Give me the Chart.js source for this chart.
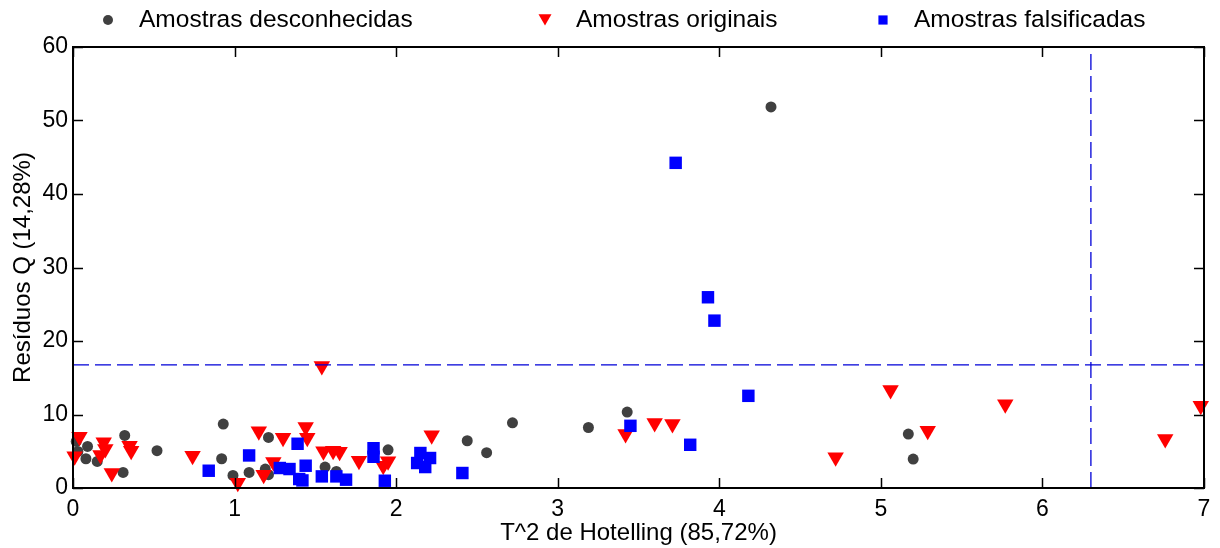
<!DOCTYPE html>
<html lang="pt">
<head>
<meta charset="utf-8">
<title>T^2 de Hotelling x Resíduos Q</title>
<script src="https://cdn.jsdelivr.net/npm/chart.js@4.4.1/dist/chart.umd.min.js"></script>
<style>
  html, body { margin: 0; padding: 0; background: #fff; }
  canvas { display: block; }
</style>
</head>
<body>
<canvas id="grafico" width="1220" height="548"></canvas>
<script>
// ---- dados ----
const desconhecidasX = [0.02, 0.09, 0.03, 0.08, 0.15, 0.32, 0.31, 0.52, 0.93, 0.92, 0.99, 1.09, 1.21,
  1.19, 1.21, 1.56, 1.63, 1.95, 2.44, 2.56, 2.72, 3.19, 3.43, 4.32, 5.17, 5.20];
const desconhecidasY = [6.33, 5.65, 4.97, 3.98, 3.61, 7.15, 2.12, 5.07, 8.70, 3.98, 1.71, 2.12, 6.88,
  2.58, 1.81, 2.85, 2.26, 5.20, 6.43, 4.80, 8.87, 8.23, 10.33, 51.85, 7.34, 3.94];

const originaisX = [0.04, 0.01, 0.19, 0.20, 0.17, 0.35, 0.36, 0.24, 0.74, 1.02, 1.15, 1.30, 1.18, 1.24,
  1.44, 1.45, 1.54, 1.55, 1.61, 1.65, 1.77, 1.92, 1.95, 2.22, 3.42, 3.60, 3.71, 4.72, 5.06, 5.29,
  5.77, 6.76, 6.98];
const originaisY = [6.98, 4.31, 6.21, 5.30, 4.48, 5.76, 5.08, 2.04, 4.40, 0.71, 7.73, 6.82, 1.79, 3.53,
  8.29, 6.85, 16.60, 4.99, 5.08, 4.92, 3.72, 3.04, 3.63, 7.16, 7.34, 8.83, 8.70, 4.17, 13.32, 7.80,
  11.41, 6.66, 11.20];

const falsificadasX = [0.84, 1.09, 1.39, 1.44, 1.28, 1.34, 1.40, 1.42, 1.54, 1.63, 1.69, 1.86, 1.86,
  1.93, 2.15, 2.21, 2.13, 2.18, 2.41, 3.45, 3.82, 4.18, 3.73, 3.93, 3.97];
const falsificadasY = [2.35, 4.43, 6.02, 3.03, 2.72, 2.58, 1.22, 1.03, 1.58, 1.58, 1.13, 5.41, 4.25,
  0.99, 4.76, 4.08, 3.40, 2.85, 2.04, 8.46, 5.88, 12.54, 44.24, 25.95, 22.77];

// limites de confiança (95%)
const limiteT2 = 6.30;
const limiteQ = 16.75;

const xTicks = [0, 1, 2, 3, 4, 5, 6, 7];
const yTicks = [0, 10, 20, 30, 40, 50, 60];

const series = ['Amostras desconhecidas', 'Amostras originais', 'Amostras falsificadas'];
const tituloX = 'T^2 de Hotelling (85,72%)';
const tituloY = 'Resíduos Q (14,28%)';

// ---- estilo ----
const FONTE = '"Liberation Sans", Arial, sans-serif';
const CINZA = '#404040', VERMELHO = '#ff0000', AZUL = '#0000ff';

const pontos = (xs, ys) => xs.map((x, i) => ({ x, y: ys[i] }));

// caixa fechada com ticks para dentro nos quatro lados
const moldura = {
  id: 'moldura',
  afterDatasetsDraw(chart) {
    const { ctx, chartArea: a, scales } = chart;
    const t = 10;
    ctx.save();
    ctx.strokeStyle = '#000';
    ctx.lineWidth = 1.5;
    ctx.beginPath();
    xTicks.forEach(v => {
      const px = Math.round(scales.x.getPixelForValue(v)) + 0.5;
      ctx.moveTo(px, a.bottom); ctx.lineTo(px, a.bottom - t);
      ctx.moveTo(px, a.top); ctx.lineTo(px, a.top + t);
    });
    yTicks.forEach(v => {
      const py = Math.round(scales.y.getPixelForValue(v)) + 0.5;
      ctx.moveTo(a.left, py); ctx.lineTo(a.left + t, py);
      ctx.moveTo(a.right, py); ctx.lineTo(a.right - t, py);
    });
    ctx.stroke();
    ctx.lineWidth = 2;
    ctx.strokeRect(a.left, a.top, a.right - a.left, a.bottom - a.top);
    ctx.restore();
  }
};

// legenda em linha no topo
const legenda = {
  id: 'legenda',
  afterDraw(chart) {
    const { ctx } = chart;
    const itens = [
      { x: 108, texto: series[0], estilo: { pointStyle: 'circle', radius: 5, rotation: 0 }, cor: CINZA },
      { x: 545, texto: series[1], estilo: { pointStyle: 'triangle', radius: 7.5, rotation: 180 }, cor: VERMELHO },
      { x: 883, texto: series[2], estilo: { pointStyle: 'rect', radius: 6.5, rotation: 0 }, cor: AZUL }
    ];
    const yl = 20;
    ctx.save();
    itens.forEach(it => {
      ctx.fillStyle = it.cor;
      ctx.strokeStyle = it.cor;
      Chart.helpers.drawPoint(ctx, { ...it.estilo, borderWidth: 0 }, it.x, yl + (it.estilo.pointStyle === 'triangle' ? -2 : 0));
      ctx.fillStyle = '#000';
      ctx.font = '24.5px ' + FONTE;
      ctx.textBaseline = 'middle';
      ctx.textAlign = 'left';
      ctx.fillText(it.texto, it.x + 31, yl);
    });
    ctx.restore();
  }
};

const linhaLimite = (dados) => ({
  type: 'line',
  data: dados,
  borderColor: '#0000d8',
  borderWidth: 1.3,
  borderDash: [16, 6],
  pointRadius: 0,
  fill: false,
  order: 0
});

new Chart(document.getElementById('grafico'), {
  type: 'scatter',
  data: {
    datasets: [
      {
        label: series[0],
        data: pontos(desconhecidasX, desconhecidasY),
        pointStyle: 'circle',
        pointRadius: 5.5,
        backgroundColor: CINZA,
        borderColor: CINZA,
        borderWidth: 0,
        clip: false,
        order: 3
      },
      {
        label: series[1],
        data: pontos(originaisX, originaisY),
        pointStyle: 'triangle',
        rotation: 180,
        pointRadius: 9.5,
        backgroundColor: VERMELHO,
        borderColor: VERMELHO,
        borderWidth: 0,
        clip: false,
        order: 2
      },
      {
        label: series[2],
        data: pontos(falsificadasX, falsificadasY),
        pointStyle: 'rect',
        pointRadius: 8.8,
        backgroundColor: AZUL,
        borderColor: AZUL,
        borderWidth: 0,
        clip: false,
        order: 1
      },
      linhaLimite([{ x: limiteT2, y: 0 }, { x: limiteT2, y: 60 }]),
      linhaLimite([{ x: 0, y: limiteQ }, { x: 7, y: limiteQ }])
    ]
  },
  options: {
    responsive: false,
    animation: false,
    events: [],
    layout: { padding: { top: 47, right: 16, left: 0, bottom: 0 } },
    plugins: {
      legend: { display: false },
      tooltip: { enabled: false }
    },
    scales: {
      x: {
        type: 'linear',
        min: 0, max: 7,
        grid: { display: false, drawTicks: false },
        border: { display: false },
        afterBuildTicks: s => { s.ticks = xTicks.map(v => ({ value: v })); },
        afterFit: s => { s.height = 60; },
        ticks: { color: '#000', padding: 8, font: { family: FONTE, size: 23 } },
        title: {
          display: true, text: tituloX, color: '#000',
          padding: { top: 0, bottom: 0 },
          font: { family: FONTE, size: 24 }
        }
      },
      y: {
        type: 'linear',
        min: 0, max: 60,
        grid: { display: false, drawTicks: false },
        border: { display: false },
        afterBuildTicks: s => { s.ticks = yTicks.map(v => ({ value: v })); },
        afterFit: s => { s.width = 73; },
        ticks: { color: '#000', padding: 5, font: { family: FONTE, size: 23 } },
        title: {
          display: true, text: tituloY, color: '#000',
          padding: { top: 9, bottom: 0 },
          font: { family: FONTE, size: 24 }
        }
      }
    }
  },
  plugins: [moldura, legenda]
});
</script>
</body>
</html>
